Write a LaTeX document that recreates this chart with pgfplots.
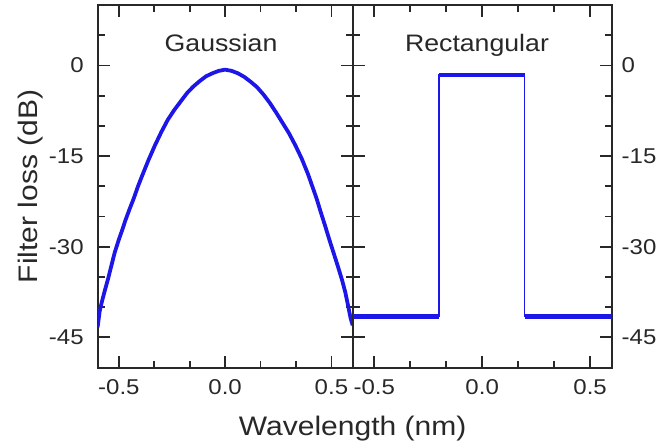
\documentclass[border=0pt]{standalone}
\usepackage{fontspec}
\setmainfont{Liberation Sans}[FakeStretch=1.12]
\usepackage{pgfplots}
\pgfplotsset{compat=1.18}
\definecolor{curve}{RGB}{28,22,232}
\definecolor{ink}{RGB}{40,40,40}

\pgfplotsset{
  panel/.style={
    scale only axis, height=182bp,
    xmin=-0.6, xmax=0.6, ymin=-50, ymax=10,
    xtick={-0.5,0,0.5}, xticklabels={-0.5,0.0,0.5},
    minor xtick={-0.3333,-0.1667,0.1667,0.3333},
    ytick={-45,-30,-15,0}, yticklabels={-45,-30,-15,0},
    minor ytick={5,-5,-10,-20,-25,-35,-40},
    tick align=inside,
    major tick length=6bp, minor tick length=3.5bp,
    every tick/.style={ink, line width=0.9bp},
    axis line style={ink, line width=1bp},
    tick label style={font=\fontsize{10.8}{12}\selectfont, text=ink},
    xticklabel style={yshift=-2.5bp},
    /pgf/number format/assume math mode=true,
    clip=true,
  },
}

\begin{document}
\begin{tikzpicture}
\begin{axis}[panel, name=L, width=128bp,
  yticklabel pos=left, ytick pos=both, xtick pos=both,
  yticklabel style={xshift=-3.5bp}]
\addplot[curve, line width=1.9pt, line join=round] coordinates {
(-0.600,-43.3) (-0.590,-40.6) (-0.580,-39.1) (-0.565,-37.1) (-0.550,-35.2)
(-0.535,-33.1) (-0.520,-31.0) (-0.500,-28.8) (-0.485,-27.3) (-0.470,-25.7)
(-0.450,-23.8) (-0.430,-22.0) (-0.410,-20.0) (-0.390,-18.2) (-0.360,-15.6)
(-0.330,-13.2) (-0.300,-11.0) (-0.270,-9.0) (-0.240,-7.4) (-0.210,-6.0)
(-0.180,-4.6) (-0.150,-3.5) (-0.120,-2.6) (-0.090,-1.8) (-0.060,-1.3)
(-0.030,-0.9) (0.000,-0.7) (0.030,-0.9) (0.060,-1.3) (0.090,-1.9)
(0.120,-2.7) (0.150,-3.6) (0.180,-4.8) (0.210,-6.2) (0.240,-7.8)
(0.270,-9.5) (0.300,-11.2) (0.330,-13.2) (0.360,-15.4) (0.390,-18.0)
(0.410,-20.0) (0.430,-22.0) (0.450,-24.3) (0.470,-26.5) (0.490,-28.8)
(0.510,-31.0) (0.530,-33.2) (0.550,-35.5) (0.565,-37.5) (0.580,-40.0)
(0.590,-41.8) (0.600,-43.0)
};
\node[anchor=base, font=\fontsize{12}{14}\selectfont, text=ink] at (rel axis cs:0.484,0.871) {Gaussian};
\end{axis}
\begin{axis}[panel, name=R, width=130bp, at={(L.south east)}, anchor=south west,
  yticklabel pos=right, ytick pos=both, xtick pos=both,
  yticklabel style={anchor=west, xshift=1.5bp}]
\addplot[curve, line width=0.6pt] coordinates {
(-0.6,-41.6) (-0.2,-41.6) (-0.2,-1.6) (0.197,-1.6) (0.197,-41.6) (0.6,-41.6)
};
\addplot[curve, line width=2.4pt, unbounded coords=jump] coordinates {
(-0.6,-41.6) (-0.2,-41.6) (-0.15,nan) (-0.2,-1.6) (0.197,-1.6) (0.25,nan) (0.197,-41.6) (0.6,-41.6)
};
\node[anchor=base, font=\fontsize{12}{14}\selectfont, text=ink] at (rel axis cs:0.48,0.871) {Rectangular};
\end{axis}
\node[anchor=base, font=\fontsize{13.5}{16}\selectfont, text=ink] at ([yshift=-34bp]L.south east) {Wavelength (nm)};
\node[rotate=90, anchor=base, font=\fontsize{13.5}{16}\selectfont, text=ink] at ([xshift=-30bp]L.west) {Filter loss (dB)};
\path ([xshift=-49bp,yshift=-38.5bp]L.south west) rectangle ++(331.5bp,223bp);
\end{tikzpicture}
\end{document}
